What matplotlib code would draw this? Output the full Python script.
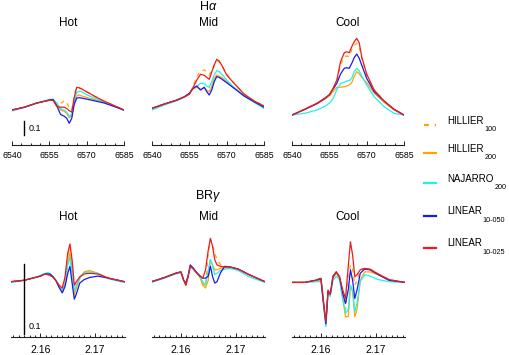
import matplotlib
matplotlib.use('Agg')
import matplotlib.pyplot as plt
from matplotlib.ticker import MultipleLocator, FixedLocator, NullFormatter

plt.rcParams['font.family'] = ['Liberation Sans', 'DejaVu Sans']
plt.rcParams['mathtext.fontset'] = 'custom'
plt.rcParams['mathtext.rm'] = 'Liberation Sans'
plt.rcParams['mathtext.it'] = 'Liberation Sans:italic'

# ---------------- data ----------------
models = ['HILLIER', 'HILLIER', 'NAJARRO', 'LINEAR', 'LINEAR']
model_subs = ['100', '200', '200', '10-050', '10-025']
panel_names = ['Hot', 'Mid', 'Cool']

# H-alpha wavelength grid (Angstrom)
wl_ha = [6540, 6545, 6550, 6553, 6555, 6556.5, 6558, 6559.5, 6561, 6562, 6563,
         6564, 6565, 6566, 6567, 6568, 6570, 6573, 6577, 6581, 6585]

ha_hot_h100 = [1.00, 1.02, 1.05, 1.062, 1.07, 1.068, 1.05, 1.045, 1.068, 1.05, 1.02,
               1.0, 1.10, 1.165, 1.16, 1.15, 1.13, 1.10, 1.063, 1.032, 1.0]
ha_hot_h200 = [1.00, 1.02, 1.05, 1.062, 1.07, 1.07, 1.04, 1.0, 0.99, 0.975, 0.945,
               0.96, 1.05, 1.10, 1.107, 1.10, 1.09, 1.075, 1.055, 1.03, 1.0]
ha_hot_n200 = [0.993, 1.018, 1.05, 1.065, 1.075, 1.077, 1.05, 1.01, 1.0, 0.985, 0.955,
               0.97, 1.06, 1.125, 1.135, 1.13, 1.11, 1.085, 1.058, 1.028, 0.995]
ha_hot_l050 = [1.00, 1.02, 1.05, 1.062, 1.072, 1.075, 1.03, 0.968, 0.955, 0.94, 0.905,
               0.94, 1.04, 1.085, 1.088, 1.085, 1.078, 1.066, 1.05, 1.025, 1.0]
ha_hot_l025 = [1.00, 1.02, 1.05, 1.062, 1.07, 1.07, 1.025, 1.02, 1.02, 1.01, 0.995,
               0.985, 1.09, 1.162, 1.158, 1.15, 1.13, 1.10, 1.063, 1.032, 1.0]

ha_mid_h100 = [1.012, 1.043, 1.071, 1.093, 1.112, 1.17, 1.235, 1.281, 1.286, 1.269, 1.25,
               1.286, 1.321, 1.350, 1.345, 1.321, 1.257, 1.19, 1.114, 1.065, 1.029]
ha_mid_h200 = [1.012, 1.043, 1.071, 1.095, 1.115, 1.15, 1.162, 1.148, 1.162, 1.138, 1.131,
               1.171, 1.226, 1.25, 1.241, 1.233, 1.202, 1.16, 1.105, 1.062, 1.022]
ha_mid_n200 = [1.0, 1.036, 1.066, 1.092, 1.118, 1.155, 1.17, 1.19, 1.19, 1.171, 1.162,
               1.202, 1.25, 1.281, 1.274, 1.257, 1.214, 1.16, 1.10, 1.055, 1.012]
ha_mid_l050 = [1.012, 1.043, 1.071, 1.095, 1.119, 1.155, 1.171, 1.143, 1.162, 1.131, 1.107,
               1.143, 1.202, 1.238, 1.233, 1.221, 1.195, 1.155, 1.10, 1.059, 1.02]
ha_mid_l025 = [1.012, 1.043, 1.071, 1.093, 1.112, 1.16, 1.214, 1.255, 1.248, 1.233, 1.219,
               1.271, 1.321, 1.362, 1.35, 1.321, 1.25, 1.19, 1.114, 1.065, 1.029]

ha_cool_h100 = [0.964, 1.005, 1.048, 1.08, 1.10, 1.145, 1.202, 1.321, 1.381, 1.385, 1.381,
                1.431, 1.459, 1.476, 1.455, 1.367, 1.25, 1.143, 1.064, 1.005, 0.964]
ha_cool_h200 = [0.964, 1.003, 1.045, 1.075, 1.10, 1.131, 1.162, 1.162, 1.167, 1.171, 1.179,
                1.195, 1.24, 1.274, 1.26, 1.233, 1.195, 1.12, 1.055, 1.0, 0.964]
ha_cool_n200 = [0.964, 0.976, 1.0, 1.024, 1.048, 1.083, 1.145, 1.19, 1.198, 1.207, 1.21,
                1.226, 1.274, 1.298, 1.28, 1.243, 1.179, 1.095, 1.024, 0.976, 0.964]
ha_cool_l050 = [0.964, 1.003, 1.045, 1.08, 1.11, 1.15, 1.19, 1.257, 1.298, 1.302, 1.298,
                1.333, 1.374, 1.40, 1.37, 1.321, 1.226, 1.131, 1.064, 1.005, 0.964]
ha_cool_l025 = [0.964, 1.005, 1.048, 1.083, 1.107, 1.155, 1.214, 1.345, 1.409, 1.416, 1.409,
                1.452, 1.488, 1.512, 1.48, 1.381, 1.257, 1.143, 1.064, 1.005, 0.964]

# Br-gamma wavelength grid (micron)
wl_brg = [2.1546, 2.1570, 2.1590, 2.1600, 2.1605, 2.1609, 2.1613, 2.1617, 2.1622, 2.1628,
          2.1634, 2.1640, 2.1645, 2.1650, 2.1654, 2.1658, 2.1662, 2.1666, 2.1672, 2.1680,
          2.1690, 2.1705, 2.1725, 2.1754]

brg_hot_h100 = [0.999, 1.001, 1.005, 1.007, 1.009, 1.010, 1.010, 1.010, 1.007, 1.001, 0.994, 0.988,
                0.999, 1.037, 1.047, 1.023, 0.990, 0.994, 1.005, 1.013, 1.014, 1.011, 1.004, 0.999]
brg_hot_h200 = [0.999, 1.001, 1.005, 1.007, 1.009, 1.010, 1.010, 1.010, 1.007, 1.001, 0.993, 0.987,
                0.997, 1.028, 1.040, 1.016, 0.980, 0.990, 1.004, 1.013, 1.015, 1.011, 1.004, 0.999]
brg_hot_n200 = [0.998, 1.001, 1.005, 1.008, 1.010, 1.011, 1.012, 1.011, 1.007, 1.001, 0.993, 0.986,
                0.994, 1.023, 1.034, 1.011, 0.986, 0.994, 1.004, 1.012, 1.013, 1.011, 1.003, 0.998]
brg_hot_l050 = [0.999, 1.001, 1.005, 1.007, 1.009, 1.010, 1.010, 1.010, 1.007, 1.001, 0.991, 0.983,
                0.992, 1.011, 1.021, 0.997, 0.974, 0.982, 0.997, 1.002, 1.005, 1.007, 1.004, 0.999]
brg_hot_l025 = [0.999, 1.001, 1.005, 1.007, 1.009, 1.010, 1.009, 1.008, 1.006, 1.001, 0.994, 0.990,
                1.006, 1.040, 1.053, 1.030, 0.994, 0.999, 1.006, 1.010, 1.011, 1.010, 1.004, 0.999]

brg_mid_h100 = [0.999, 1.005, 1.011, 1.013, 1.001, 0.994, 1.006, 1.021, 1.018, 1.012, 1.007, 0.997,
                0.992, 1.040, 1.059, 1.051, 1.040, 1.030, 1.024, 1.021, 1.020, 1.017, 1.009, 0.999]
brg_mid_h200 = [0.999, 1.005, 1.011, 1.013, 1.001, 0.994, 1.006, 1.021, 1.018, 1.012, 1.007, 0.994,
                0.990, 1.001, 1.030, 1.023, 1.016, 1.016, 1.018, 1.019, 1.020, 1.017, 1.009, 0.999]
brg_mid_n200 = [0.998, 1.004, 1.010, 1.012, 1.001, 0.996, 1.006, 1.021, 1.017, 1.012, 1.007, 0.999,
                0.994, 1.016, 1.031, 1.021, 1.009, 1.011, 1.015, 1.017, 1.018, 1.015, 1.006, 0.998]
brg_mid_l050 = [0.999, 1.005, 1.011, 1.013, 1.001, 0.997, 1.007, 1.023, 1.019, 1.013, 1.008, 1.004,
                1.004, 1.007, 1.021, 1.006, 0.997, 0.999, 1.011, 1.021, 1.020, 1.017, 1.009, 0.999]
brg_mid_l025 = [0.999, 1.005, 1.011, 1.013, 1.001, 0.994, 1.006, 1.021, 1.018, 1.012, 1.007, 1.004,
                1.016, 1.044, 1.061, 1.049, 1.030, 1.023, 1.021, 1.020, 1.020, 1.017, 1.009, 0.999]

brg_cool_h100 = [0.998, 0.998, 1.001, 1.004, 0.968, 0.941, 0.986, 0.981, 1.006, 1.012, 1.005, 0.980,
                 0.959, 1.001, 1.023, 1.016, 0.994, 1.001, 1.016, 1.018, 1.016, 1.010, 1.002, 0.998]
brg_cool_h200 = [0.998, 0.998, 1.000, 1.001, 0.966, 0.937, 0.985, 0.980, 1.004, 1.011, 1.004, 0.975,
                 0.949, 0.949, 0.992, 0.985, 0.949, 0.959, 1.001, 1.013, 1.013, 1.009, 1.001, 0.998]
brg_cool_n200 = [0.998, 0.998, 0.999, 0.999, 0.963, 0.935, 0.982, 0.978, 1.001, 1.007, 1.002, 0.973,
                 0.954, 0.959, 0.994, 0.987, 0.956, 0.968, 0.999, 1.009, 1.007, 1.002, 0.999, 0.998]
brg_cool_l050 = [0.998, 0.998, 1.001, 1.003, 0.966, 0.939, 0.986, 0.981, 1.006, 1.013, 1.006, 0.982,
                 0.968, 0.987, 1.016, 1.001, 0.975, 0.987, 1.011, 1.017, 1.016, 1.009, 1.001, 0.998]
brg_cool_l025 = [0.998, 0.998, 1.001, 1.004, 0.968, 0.942, 0.987, 0.981, 1.007, 1.013, 1.006, 0.987,
                 0.975, 1.021, 1.056, 1.037, 1.006, 1.009, 1.016, 1.018, 1.017, 1.010, 1.002, 0.998]

ha_ticks = [6540, 6555, 6570, 6585]
brg_ticks = [2.16, 2.17]
brg_tick_labels = ['2.16', '2.17']
scale_len = 0.1

# ---------------- styling ----------------
colors = ['#FFA500', '#FFA500', '#22F0F0', '#1A1AF0', '#F01A1A']
styles = ['--', '-', '-', '-', '-']
lw = 0.9

W, H = 509, 355
fig = plt.figure(figsize=(W / 100, H / 100), dpi=100)


def px_axes(left, top, width, height):
    return fig.add_axes([left / W, 1 - (top + height) / H, width / W, height / H])


def style_axis(ax, xlim, ylim):
    ax.set_xlim(*xlim)
    ax.set_ylim(*ylim)
    for s in ['left', 'right', 'top']:
        ax.spines[s].set_visible(False)
    ax.spines['bottom'].set_linewidth(0.8)
    ax.spines['bottom'].set_color('#222222')
    ax.set_yticks([])
    ax.patch.set_alpha(0)
    ax.tick_params(axis='x', which='both', direction='in', color='#222222', width=0.7)
    ax.tick_params(axis='x', which='major', length=2.8)
    ax.tick_params(axis='x', which='minor', length=1.6)


def draw_lines(ax, wl, series):
    for y, c, ls in zip(series, colors, styles):
        line, = ax.plot(wl, y, color=c, lw=lw, ls=ls, solid_joinstyle='round')
        if ls == '--':
            line.set_dashes((3.2, 3.6))


ha_series = [
    [ha_hot_h100, ha_hot_h200, ha_hot_n200, ha_hot_l050, ha_hot_l025],
    [ha_mid_h100, ha_mid_h200, ha_mid_n200, ha_mid_l050, ha_mid_l025],
    [ha_cool_h100, ha_cool_h200, ha_cool_n200, ha_cool_l050, ha_cool_l025],
]
brg_series = [
    [brg_hot_h100, brg_hot_h200, brg_hot_n200, brg_hot_l050, brg_hot_l025],
    [brg_mid_h100, brg_mid_h200, brg_mid_n200, brg_mid_l050, brg_mid_l025],
    [brg_cool_h100, brg_cool_h200, brg_cool_n200, brg_cool_l050, brg_cool_l025],
]

top_lefts = [12, 152, 292]
bot_lefts = [11, 151.5, 291.5]
ha_ylim = (0.75, 0.75 + 110 / 140)
brg_ylim = (0.92, 0.92 + 107 / 700)

top_axes = []
for i, left in enumerate(top_lefts):
    ax = px_axes(left, 35, 112, 110)
    style_axis(ax, (6540, 6585), ha_ylim)
    ax.xaxis.set_major_locator(FixedLocator(ha_ticks))
    ax.xaxis.set_minor_locator(MultipleLocator(3.75))
    ax.tick_params(axis='x', which='major', labelsize=6.3, pad=4.5)
    draw_lines(ax, wl_ha, ha_series[i])
    top_axes.append(ax)

bot_axes = []
for i, left in enumerate(bot_lefts):
    ax = px_axes(left, 230, 113.5, 107)
    style_axis(ax, (2.1546, 2.1754), brg_ylim)
    ax.xaxis.set_major_locator(FixedLocator(brg_ticks))
    ax.set_xticklabels(brg_tick_labels)
    ax.xaxis.set_minor_locator(MultipleLocator(0.001))
    ax.xaxis.set_minor_formatter(NullFormatter())
    ax.tick_params(axis='x', which='major', labelsize=7.5, pad=5.5)
    draw_lines(ax, wl_brg, brg_series[i])
    bot_axes.append(ax)

# scale bars
ax = top_axes[0]
ax.plot([6544.8, 6544.8], [0.82, 0.82 + scale_len], color='black', lw=1.0, clip_on=False)
ax.text(6546.8, 0.865, '0.1', fontsize=6.5, va='center', ha='left')
ax = bot_axes[0]
ax.plot([2.15698, 2.15698], [0.9243, 0.9243 + scale_len], color='black', lw=1.0, clip_on=False)
ax.text(2.1579, 0.9343, '0.1', fontsize=6.5, va='center', ha='left')


def fx(x):
    return x / W


def fy(y):
    return 1 - y / H


# titles
centers = [68, 208, 348]
for name, cx in zip(panel_names, centers):
    fig.text(fx(cx), fy(23), name, fontsize=8.5, ha='center', va='center')
    fig.text(fx(cx), fy(216.5), name, fontsize=8.5, ha='center', va='center')
fig.text(fx(208), fy(6), r'H$\alpha$', fontsize=9, ha='center', va='center')
fig.text(fx(208), fy(196.5), r'BR$\gamma$', fontsize=9, ha='center', va='center')

# legend
lax = fig.add_axes([0, 0, 1, 1])
lax.set_xlim(0, W)
lax.set_ylim(H, 0)
lax.axis('off')
leg_y = [125, 153, 183, 216, 248]
for yy, c, ls, m, sub in zip(leg_y, colors, styles, models, model_subs):
    ln, = lax.plot([424, 436], [yy, yy], color=c, lw=1.6, ls=ls)
    if ls == '--':
        ln.set_dashes((2.2, 2.6))
    t = lax.text(447, yy - 4.5, m, fontsize=7, ha='left', va='center')
    lax.annotate(sub, xy=(1, 0), xycoords=t, xytext=(0.6, -0.5),
                 textcoords='offset points', fontsize=5.2, ha='left', va='top')

fig.savefig('out.png', dpi=100)
